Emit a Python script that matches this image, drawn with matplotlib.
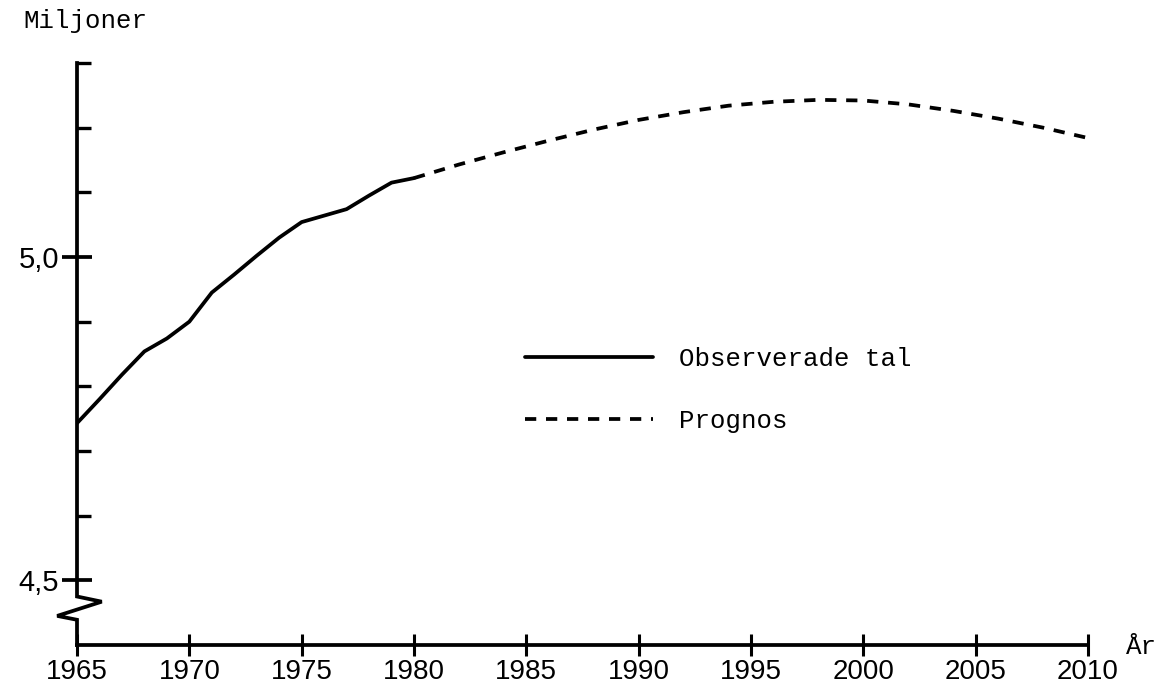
import numpy as np
import matplotlib.pyplot as plt
from matplotlib.ticker import FixedLocator

obs_years = [1965, 1966, 1967, 1968, 1969, 1970, 1971, 1972, 1973, 1974,
             1975, 1976, 1977, 1978, 1979, 1980]
obs_vals = [4.743, 4.780, 4.818, 4.854, 4.874, 4.900, 4.945, 4.973, 5.002, 5.030,
            5.054, 5.064, 5.074, 5.095, 5.115, 5.122]

# forecast
prog_years = [1980, 1982, 1984, 1986, 1988, 1990, 1992, 1994, 1996, 1998,
              2000, 2002, 2004, 2006, 2008, 2010]
prog_vals = [5.122, 5.143, 5.162, 5.180, 5.197, 5.212, 5.224, 5.234, 5.240, 5.243,
             5.242, 5.236, 5.226, 5.214, 5.200, 5.184]

x_ticks = [1965, 1970, 1975, 1980, 1985, 1990, 1995, 2000, 2005, 2010]
y_major = [4.5, 5.0]
y_major_labels = ["4,5", "5,0"]
y_minor = [4.6, 4.7, 4.8, 4.9, 5.1, 5.2, 5.3]

mono = "Liberation Mono"
sans = "Liberation Sans"
lw = 2.7

fig = plt.figure(figsize=(11.58, 6.85), dpi=100)
W, H = 1158, 685
ax = fig.add_axes([77 / W, 40 / H, (1088 - 77) / W, (645 - 63) / H])

ax.plot(obs_years, obs_vals, color="black", lw=lw, solid_capstyle="round",
        label="Observerade tal")
ax.plot(prog_years, prog_vals, color="black", lw=lw, linestyle=(0, (3.0, 2.6)),
        label="Prognos")

ax.set_xlim(1965, 2010)
ax.set_ylim(4.4, 5.3)

# y axis drawn by hand with the break
ax.spines["left"].set_visible(False)
ax.spines["top"].set_visible(False)
ax.spines["right"].set_visible(False)
ax.spines["bottom"].set_linewidth(lw)
ax.plot([1965, 1965, 1966.1, 1964.12, 1965, 1965],
        [5.3, 4.475, 4.467, 4.445, 4.439, 4.4],
        color="black", lw=lw, clip_on=False, solid_joinstyle="miter")

ax.set_yticks(y_major)
ax.set_yticklabels(y_major_labels, fontsize=21, family=sans)
ax.yaxis.set_minor_locator(FixedLocator(y_minor))
ax.tick_params(axis="y", which="major", direction="inout", length=22, width=lw, pad=2)
ax.tick_params(axis="y", which="minor", direction="in", length=10, width=2.4)

ax.set_xticks(x_ticks)
ax.set_xticklabels([str(x) for x in x_ticks], fontsize=20, family=sans)
ax.tick_params(axis="x", which="major", direction="inout", length=16, width=2.2, pad=2)

fig.text(23 / W, 1 - 21 / H, "Miljoner", fontsize=18.5, family=mono, va="center")
fig.text(1126 / W, 1 - 647 / H, "År", fontsize=18.5, family=mono, va="center")

ax.legend(loc="upper left", bbox_to_anchor=((525 - 77) / 1011, (645 - 347) / 582),
          frameon=False, handlelength=5.0, handletextpad=1.0, labelspacing=1.46,
          borderpad=0, borderaxespad=0, prop={"family": mono, "size": 18.5})

fig.savefig("out.png", dpi=100)
